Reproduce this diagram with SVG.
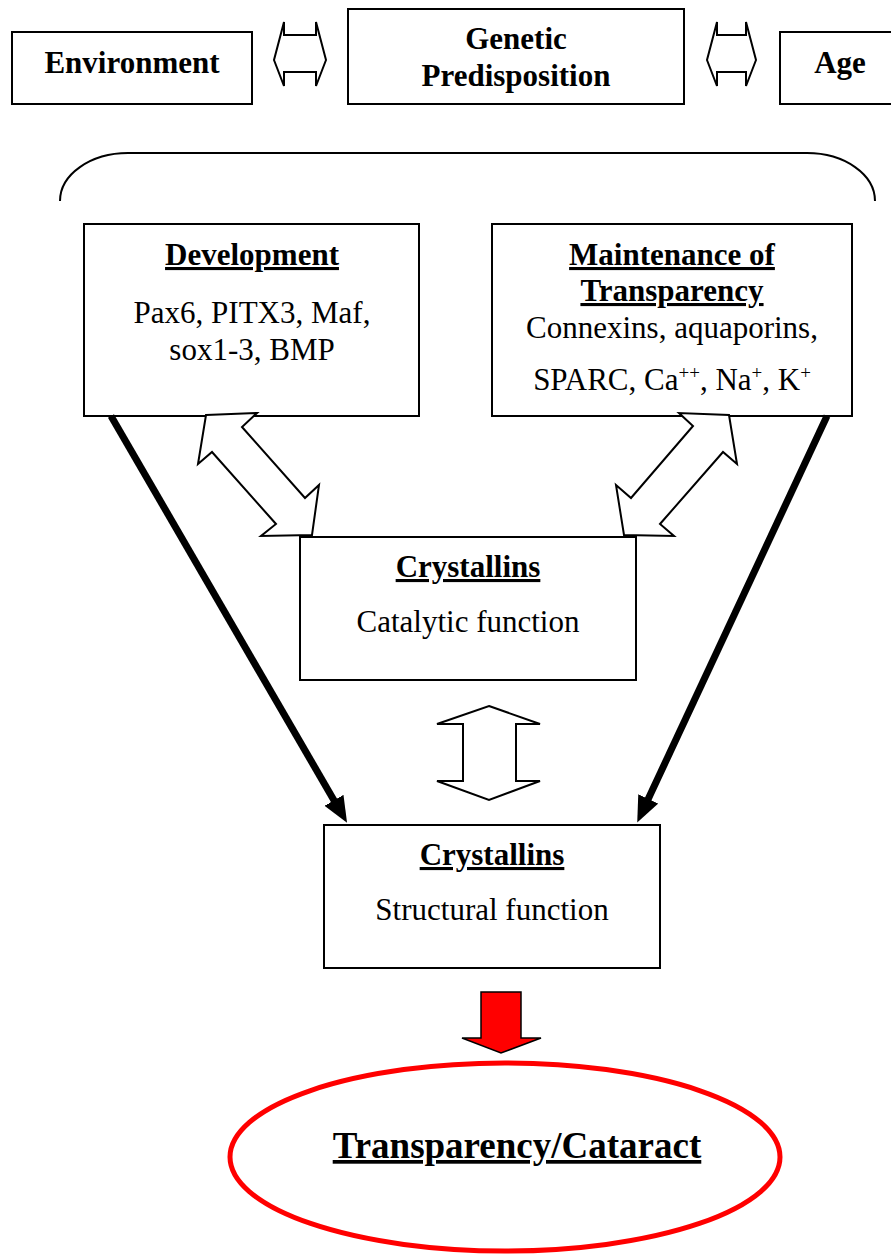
<svg xmlns="http://www.w3.org/2000/svg" width="891" height="1254" viewBox="0 0 891 1254">
  <style>
    .box { fill: #ffffff; stroke: #000000; stroke-width: 2; }
    .hollow { fill: #ffffff; stroke: #000000; stroke-width: 2; stroke-linejoin: miter; }
    .t { font-family: "Liberation Serif", "Times New Roman", serif; fill: #000000; text-anchor: middle; }
    .b { font-weight: bold; font-size: 31px; }
    .r { font-size: 31px; }
    .u { text-decoration: underline; }
    .sup { font-size: 19px; }
    .thick { stroke: #000000; stroke-width: 7; fill: none; }
  </style>
  <defs>
    <marker id="head" markerUnits="userSpaceOnUse" markerWidth="30" markerHeight="26" refX="10" refY="11" orient="auto">
      <path d="M0,0 L26,11 L0,22 Z" fill="#000000"/>
    </marker>
  </defs>

  <rect width="891" height="1254" fill="#ffffff"/>

  <!-- top row -->
  <g id="environment">
    <rect class="box" x="12" y="32" width="240" height="72"/>
    <text class="t b" x="132" y="73">Environment</text>
  </g>
  <g id="genetic">
    <rect class="box" x="348" y="9" width="336" height="95"/>
    <text class="t b" x="516" y="49">Genetic</text>
    <text class="t b" x="516" y="86">Predisposition</text>
  </g>
  <g id="age">
    <rect class="box" x="780" y="32" width="120" height="72"/>
    <text class="t b" x="840" y="73">Age</text>
  </g>

  <!-- grouping brace -->
  <g id="brace">
    <path d="M60,201 A68,48 0 0 1 128,153 L807,153 A68,48 0 0 1 875,201" fill="none" stroke="#000000" stroke-width="2"/>
  </g>

  <g id="development">
    <rect class="box" x="84" y="224" width="335" height="192"/>
    <text class="t b u" x="252" y="265">Development</text>
    <text class="t r" x="252" y="323">Pax6, PITX3, Maf,</text>
    <text class="t r" x="252" y="360">sox1-3, BMP</text>
  </g>

  <g id="maintenance">
    <rect class="box" x="492" y="224" width="360" height="192"/>
    <text class="t b u" x="672" y="265">Maintenance of</text>
    <text class="t b u" x="672" y="301">Transparency</text>
    <text class="t r" x="672" y="338">Connexins, aquaporins,</text>
    <text class="t r" x="672" y="390">SPARC, Ca<tspan class="sup" dy="-11">++</tspan><tspan dy="11">, Na</tspan><tspan class="sup" dy="-11">+</tspan><tspan dy="11">, K</tspan><tspan class="sup" dy="-11">+</tspan></text>
  </g>

  <g id="catalytic">
    <rect class="box" x="300" y="537" width="336" height="143"/>
    <text class="t b u" x="468" y="577">Crystallins</text>
    <text class="t r" x="468" y="632">Catalytic function</text>
  </g>

  <g id="structural">
    <rect class="box" x="324" y="825" width="336" height="143"/>
    <text class="t b u" x="492" y="865">Crystallins</text>
    <text class="t r" x="492" y="920">Structural function</text>
  </g>

  <g id="outcome">
    <ellipse cx="505" cy="1157" rx="275" ry="94" fill="#ffffff" stroke="#ff0000" stroke-width="5"/>
    <text class="t u" x="517" y="1158" font-weight="bold" font-size="37">Transparency/Cataract</text>
  </g>

  <!-- connectors -->
  <g id="connectors">
    <!-- horizontal double arrows between top boxes -->
    <polygon class="hollow" points="284,35 284,22 274,60 284,86 284,72 316,72 316,86 326,60 316,22 316,35"/>
    <polygon class="hollow" points="717,35 717,22 707,60 717,86 717,72 746,72 746,86 756,60 746,22 746,35"/>

    <!-- hollow diagonal double arrows -->
    <polygon class="hollow" points="206,415 257,413 242,427 305,498 319,485 312,535 261,536 276,524 212,452 198,464"/>
    <polygon class="hollow" points="729,415 737,464 723,452 660,524 674,536 624,535 616,485 631,498 693,426 679,413"/>

    <!-- vertical double arrow between crystallin boxes -->
    <polygon class="hollow" points="489,706 540,724 516,724 516,781 540,781 489,800 437,781 463,781 463,724 437,724"/>

    <!-- thick black arrows into structural box -->
    <line class="thick" x1="111" y1="416" x2="339" y2="809" marker-end="url(#head)"/>
    <line class="thick" x1="827" y1="416" x2="644" y2="808" marker-end="url(#head)"/>

    <!-- red block arrow to outcome -->
    <polygon points="481,992 521,992 521,1038 541,1038 501,1053 462,1038 481,1038" fill="#ff0000" stroke="#000000" stroke-width="1.5"/>
  </g>
</svg>
